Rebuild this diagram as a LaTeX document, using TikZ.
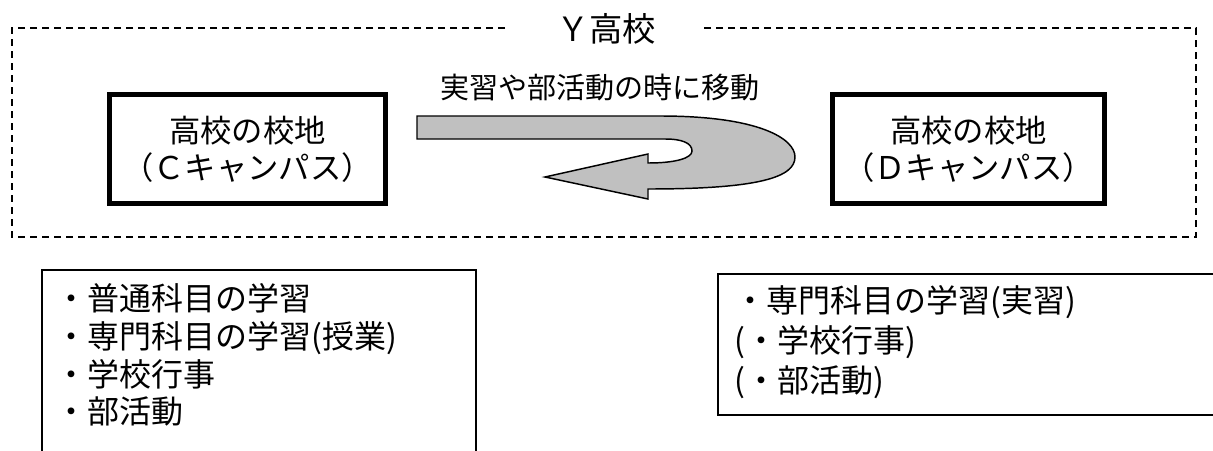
\documentclass[tikz,border=0pt]{standalone}
\usepackage{fontspec}
\newfontfamily\jp{Noto Sans CJK JP}
\definecolor{arrowgray}{HTML}{C0C0C0}
\begin{document}
\begin{tikzpicture}[x=0.75pt,y=-0.75pt,
  frame/.style={line width=1.2pt, dash pattern=on 5.5pt off 3.5pt},
  campus/.style={draw, line width=3.5pt, inner sep=0pt, minimum height=82pt, align=center,
    font=\jp\fontsize{23.5}{27.5}\selectfont},
  listtext/.style={inner sep=0pt, anchor=north west, align=left},
  listbox/.style={line width=1pt},
  uturn/.style={draw=black, fill=arrowgray, line width=1.1pt, line join=miter},
]
\useasboundingbox (0,0) rectangle (1213,450);

% title and dashed frame
\node[font=\jp\fontsize{25}{28}\selectfont] (title) at (606,29) {Ｙ高校};
\coordinate (fl) at (505,28);
\coordinate (fr) at (700,28);
\coordinate (ftl) at (12,28);
\coordinate (fbl) at (12,237);
\coordinate (fbr) at (1196,237);
\coordinate (ftr) at (1196,28);
\draw[frame] (fl) -- (ftl) -- (fbl) -- (fbr) -- (ftr) -- (fr);

% campus boxes
\node[campus, minimum width=207.2pt] (C) at (247.5,149) {高校の校地\\（Ｃキャンパス）};
\node[campus, minimum width=204.2pt] (D) at (968.5,149) {高校の校地\\（Ｄキャンパス）};

% label and U-turn arrow
\node[font=\jp\fontsize{21.8}{24}\selectfont] (lbl) at (600,88) {実習や部活動の時に移動};
\draw[uturn] (417,116) -- (660,116)
  .. controls (760,116) and (795,139) .. (795,157)
  .. controls (795,177) and (760,189) .. (648,189)
  -- (648,199) -- (545,177) -- (648,154) -- (648,163)
  .. controls (676,163) and (692,158) .. (692,151)
  .. controls (692,143) and (682,139) .. (665,139)
  -- (417,139) -- cycle;

% left list box (open at bottom)
\coordinate (lb1) at (42,452);
\coordinate (lb2) at (42,270);
\coordinate (lb3) at (476,270);
\coordinate (lb4) at (476,452);
\draw[listbox] (lb1) -- (lb2) -- (lb3) -- (lb4);
\node[listtext, font=\jp\fontsize{24}{28.4}\selectfont] (L) at (55,283)
  {・普通科目の学習\\・専門科目の学習(授業)\\・学校行事\\・部活動};

% right list box (open at right)
\coordinate (rb1) at (1215,274);
\coordinate (rb2) at (718,274);
\coordinate (rb3) at (718,415);
\coordinate (rb4) at (1215,415);
\draw[listbox] (rb1) -- (rb2) -- (rb3) -- (rb4);
\node[listtext, font=\jp\fontsize{24}{30}\selectfont] (R) at (734,285)
  {・専門科目の学習(実習)\\(・学校行事)\\(・部活動)};
\end{tikzpicture}
\end{document}
